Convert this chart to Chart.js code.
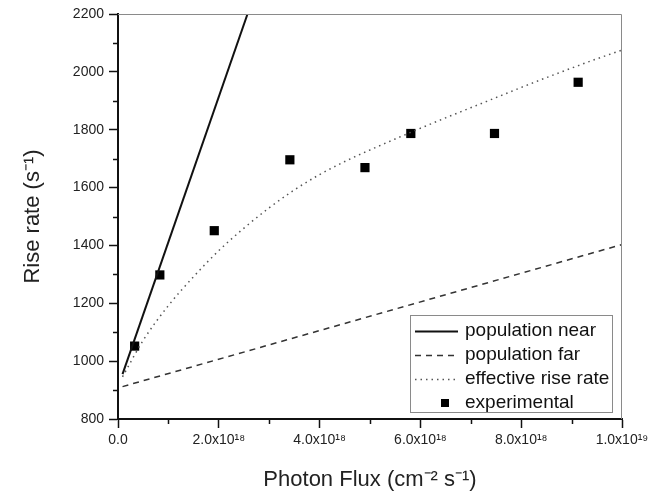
<!DOCTYPE html>
<html>
<head>
<meta charset="utf-8">
<script src="https://cdn.jsdelivr.net/npm/chart.js@4.4.1/dist/chart.umd.min.js"></script>
<style>
  html, body { margin: 0; padding: 0; background: #fff; }
  #wrap { width: 672px; height: 497px; }
</style>
</head>
<body>
<div id="wrap"><canvas id="riseChart" width="672" height="497"></canvas></div>
<script>
// photon flux in cm^-2 s^-1, rise rate in s^-1
const nearX = [0.09e18, 2.57e18];
const nearY = [955, 2200];

const farX = [0.09e18, 1.0e19];
const farY = [912, 1403];

const effX = [0.09e18, 0.5e18, 1.0e18, 1.5e18, 2.0e18, 2.5e18, 3.0e18, 3.5e18, 4.0e18, 4.5e18,
              5.0e18, 5.5e18, 6.0e18, 6.5e18, 7.0e18, 7.5e18, 8.0e18, 8.5e18, 9.0e18, 9.5e18, 1.0e19];
const effY = [946, 1072, 1192, 1292, 1382, 1460, 1530, 1592, 1645, 1690,
              1730, 1768, 1805, 1841, 1876, 1911, 1946, 1980, 2013, 2045, 2075];

const expX = [0.33e18, 0.83e18, 1.91e18, 3.41e18, 4.90e18, 5.81e18, 7.47e18, 9.13e18];
const expY = [1052, 1298, 1451, 1696, 1669, 1787, 1787, 1964];

const xTickLabels = ['0.0', '2.0x10\u00B9\u2078', '4.0x10\u00B9\u2078', '6.0x10\u00B9\u2078', '8.0x10\u00B9\u2078', '1.0x10\u00B9\u2079'];
const xMinor = [1e18, 3e18, 5e18, 7e18, 9e18];
const yMinor = [900, 1100, 1300, 1500, 1700, 1900, 2100];

const pts = (xs, ys) => xs.map((x, i) => ({ x: x, y: ys[i] }));

const FONT = "'Liberation Sans', Arial, sans-serif";

// top/right frame, minor ticks and the boxed legend
const framePlugin = {
    id: 'frame',
    afterDraw(chart) {
        const ctx = chart.ctx;
        const a = chart.chartArea;
        const xs = chart.scales.x, ys = chart.scales.y;
        ctx.save();
        ctx.strokeStyle = '#8a8a8a';
        ctx.lineWidth = 1;
        ctx.beginPath();
        ctx.moveTo(a.left, a.top + 0.5);
        ctx.lineTo(a.right - 0.5, a.top + 0.5);
        ctx.lineTo(a.right - 0.5, a.bottom);
        ctx.stroke();

        ctx.strokeStyle = '#111';
        ctx.lineWidth = 1.5;
        ctx.beginPath();
        xMinor.forEach(v => {
            const px = Math.round(xs.getPixelForValue(v)) + 0.5;
            ctx.moveTo(px, a.bottom);
            ctx.lineTo(px, a.bottom + 5);
        });
        yMinor.forEach(v => {
            const py = Math.round(ys.getPixelForValue(v)) + 0.5;
            ctx.moveTo(a.left, py);
            ctx.lineTo(a.left - 5, py);
        });
        ctx.stroke();

        // legend
        const bx = a.right - 212, by = a.bottom - 104, bw = 202, bh = 97;
        ctx.fillStyle = '#fff';
        ctx.fillRect(bx, by, bw, bh);
        ctx.strokeStyle = '#8a8a8a';
        ctx.lineWidth = 1;
        ctx.strokeRect(bx + 0.5, by + 0.5, bw, bh);
        ctx.font = '19px ' + FONT;
        ctx.textBaseline = 'middle';
        ctx.textAlign = 'left';
        chart.data.datasets.forEach((ds, i) => {
            const cy = by + 16 + i * 24;
            if (ds.showLine === false) {
                ctx.fillStyle = ds.backgroundColor;
                ctx.fillRect(bx + 31, cy - 4, 8, 8);
            } else {
                ctx.strokeStyle = ds.borderColor;
                ctx.lineWidth = ds.borderWidth;
                ctx.setLineDash(ds.borderDash || []);
                ctx.beginPath();
                ctx.moveTo(bx + 5, cy + 0.5);
                ctx.lineTo(bx + 48, cy + 0.5);
                ctx.stroke();
                ctx.setLineDash([]);
            }
            ctx.fillStyle = '#111';
            ctx.fillText(ds.label, bx + 55, cy);
        });
        ctx.restore();
    }
};

const ctx = document.getElementById('riseChart').getContext('2d');
new Chart(ctx, {
    type: 'scatter',
    data: {
        datasets: [{
            label: 'population near',
            data: pts(nearX, nearY),
            showLine: true,
            borderColor: '#111',
            borderWidth: 2,
            pointRadius: 0
        }, {
            label: 'population far',
            data: pts(farX, farY),
            showLine: true,
            borderColor: '#333',
            borderWidth: 1.5,
            borderDash: [6, 5],
            pointRadius: 0
        }, {
            label: 'effective rise rate',
            data: pts(effX, effY),
            showLine: true,
            borderColor: '#555',
            borderWidth: 1.5,
            borderDash: [1.5, 4],
            cubicInterpolationMode: 'monotone',
            pointRadius: 0
        }, {
            label: 'experimental',
            data: pts(expX, expY),
            showLine: false,
            pointStyle: 'rect',
            pointRadius: 6.5,
            backgroundColor: '#000',
            borderColor: '#000',
            borderWidth: 0
        }]
    },
    options: {
        responsive: false,
        animation: false,
        events: [],
        layout: { padding: { top: 14, right: 50, left: 0, bottom: 4 } },
        plugins: {
            legend: { display: false },
            tooltip: { enabled: false }
        },
        scales: {
            x: {
                type: 'linear',
                min: 0,
                max: 1e19,
                ticks: {
                    stepSize: 2e18,
                    color: '#222',
                    font: { family: FONT, size: 14 },
                    padding: 4,
                    maxRotation: 0,
                    callback: (v, i) => xTickLabels[i]
                },
                grid: { drawOnChartArea: false, tickLength: 9, color: '#111', tickWidth: 1.5 },
                border: { color: '#111', width: 2 },
                title: {
                    display: true,
                    text: 'Photon Flux (cm\u207B\u00B2 s\u207B\u00B9)',
                    color: '#222',
                    font: { family: FONT, size: 22 },
                    padding: { top: 8, bottom: 0 }
                },
                afterFit: s => { s.height = 74; }
            },
            y: {
                type: 'linear',
                min: 800,
                max: 2200,
                ticks: {
                    stepSize: 200,
                    color: '#222',
                    font: { family: FONT, size: 14 },
                    padding: 5,
                    callback: v => String(v)
                },
                grid: { drawOnChartArea: false, tickLength: 9, color: '#111', tickWidth: 1.5 },
                border: { color: '#111', width: 2 },
                title: {
                    display: true,
                    text: 'Rise rate (s\u207B\u00B9)',
                    color: '#222',
                    font: { family: FONT, size: 22 },
                    padding: { top: 20, bottom: 0 }
                },
                afterFit: s => { s.width = 118; }
            }
        }
    },
    plugins: [framePlugin]
});
</script>
</body>
</html>
